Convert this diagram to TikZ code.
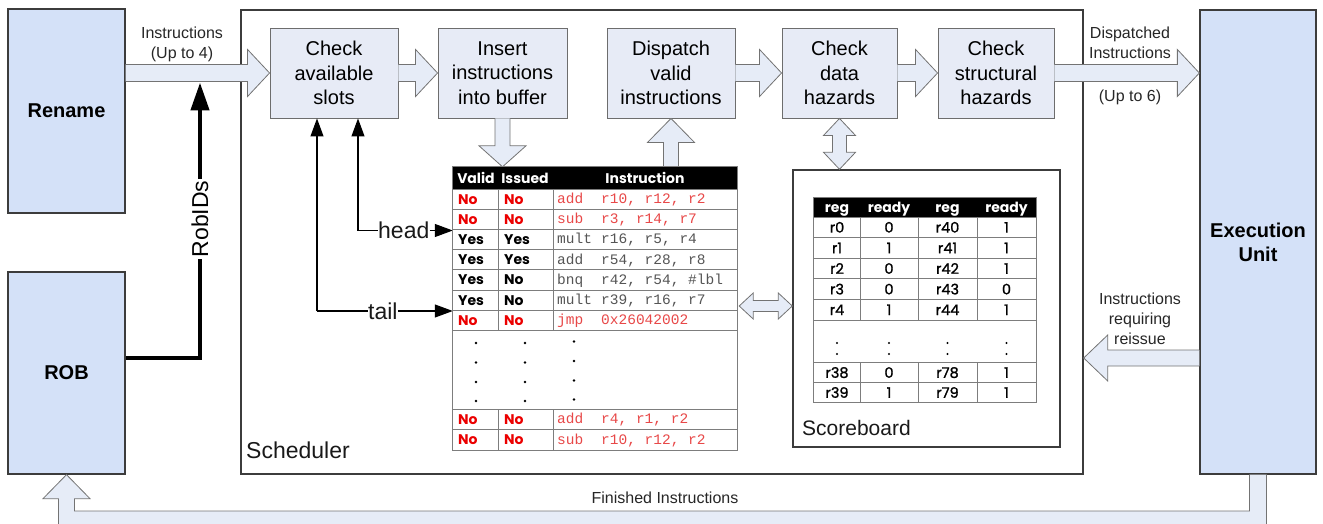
\documentclass[tikz,border=0pt]{standalone}
\usepackage{fontspec}
\setmainfont{Liberation Sans}
\newfontfamily\tabfont{Poppins}
\newfontfamily\tabmed[FakeBold=1.2]{Poppins}
\newfontfamily\codefont{Liberation Mono}
\usetikzlibrary{arrows.meta,calc}
\definecolor{bordc}{RGB}{60,60,60}
\definecolor{unitf}{RGB}{212,225,248}
\definecolor{procf}{RGB}{231,235,246}
\definecolor{arrf}{RGB}{230,236,247}
\definecolor{arrd}{RGB}{115,115,115}
\definecolor{gridc}{RGB}{125,125,125}
\definecolor{nored}{RGB}{235,0,0}
\definecolor{insred}{RGB}{232,72,72}
\definecolor{insgray}{RGB}{85,85,85}
\newcommand\rblk[2]{\draw[blk] let \p1=(#1), \p2=(#2) in (\x1,\y2+8.5pt) -- (\x2-22pt,\y2+8.5pt) -- (\x2-22pt,\y2+23.5pt) -- (\x2,\y2) -- (\x2-22pt,\y2-23.5pt) -- (\x2-22pt,\y2-8.5pt) -- (\x1,\y2-8.5pt);}
\newcommand\lblk[2]{\draw[blk] let \p1=(#1), \p2=(#2) in (\x1,\y2+8pt) -- (\x2+24pt,\y2+8pt) -- (\x2+24pt,\y2+23pt) -- (\x2,\y2) -- (\x2+24pt,\y2-23pt) -- (\x2+24pt,\y2-8pt) -- (\x1,\y2-8pt);}
\newcommand\dblk[2]{\draw[blk] let \p1=(#1), \p2=(#2) in (\x2-7.5pt,\y1) -- (\x2-7.5pt,\y2+21pt) -- (\x2-23.5pt,\y2+21pt) -- (\x2,\y2) -- (\x2+23.5pt,\y2+21pt) -- (\x2+7.5pt,\y2+21pt) -- (\x2+7.5pt,\y1);}
\newcommand\ublk[2]{\draw[blk] let \p1=(#1), \p2=(#2) in (\x2-7.5pt,\y1) -- (\x2-7.5pt,\y2-24pt) -- (\x2-23.5pt,\y2-24pt) -- (\x2,\y2) -- (\x2+23.5pt,\y2-24pt) -- (\x2+7.5pt,\y2-24pt) -- (\x2+7.5pt,\y1);}
\newcommand\vdbl[2]{\draw[blk] let \p1=(#1), \p2=(#2) in (\x1,\y1) -- (\x1+16pt,\y1-17pt) -- (\x1+7pt,\y1-17pt) -- (\x1+7pt,\y2+17pt) -- (\x1+16pt,\y2+17pt) -- (\x1,\y2) -- (\x1-16pt,\y2+17pt) -- (\x1-7pt,\y2+17pt) -- (\x1-7pt,\y1-17pt) -- (\x1-16pt,\y1-17pt) -- cycle;}
\newcommand\hdbl[2]{\draw[blk] let \p1=(#1), \p2=(#2) in (\x1,\y1) -- (\x1+14pt,\y1+13pt) -- (\x1+14pt,\y1+5.5pt) -- (\x2-14pt,\y1+5.5pt) -- (\x2-14pt,\y1+13pt) -- (\x2,\y1) -- (\x2-14pt,\y1-13pt) -- (\x2-14pt,\y1-5.5pt) -- (\x1+14pt,\y1-5.5pt) -- (\x1+14pt,\y1-13pt) -- cycle;}
\begin{document}
\begin{tikzpicture}[x=1pt,y=-1pt,
  unit/.style={draw=bordc, fill=unitf, line width=1.3pt, font=\fontsize{20}{24}\selectfont\bfseries, align=center, inner sep=0pt},
  proc/.style={draw=bordc!75, fill=procf, line width=0.9pt, font=\fontsize{20}{24.5}\selectfont, align=center, minimum height=90pt, inner sep=0pt},
  frame/.style={draw=bordc, line width=1.4pt, inner sep=0pt},
  blk/.style={draw=arrd, fill=arrf, line width=0.8pt, line join=miter},
  lbl/.style={font=\fontsize{16}{20}\selectfont, align=center, inner sep=0pt, text=black!85},
  big/.style={font=\fontsize{23}{23}\selectfont, inner sep=0pt, text=black!90},
  ptr/.style={line width=1.1pt, -{Triangle[length=18pt,width=13pt]}},
  hdr/.style={font=\tabfont\fontsize{14}{16}\selectfont\bfseries, text=white, inner sep=0pt, anchor=base},
  cell/.style={font=\tabfont\fontsize{14}{16}\selectfont\bfseries, inner sep=0pt, anchor=base west},
  code/.style={font=\codefont\fontsize{14.5}{16}\selectfont, inner sep=0pt, anchor=base west},
  sbc/.style={font=\tabmed\fontsize{14.5}{16}\selectfont, inner sep=0pt, anchor=base},
  tline/.style={draw=gridc, line width=0.9pt}
]
\useasboundingbox (0,0) rectangle (1323,524);
\clip (0,0) rectangle (1323,524);

% frames and boxes
\node[frame, minimum width=842pt, minimum height=464pt] (sched) at (662,242) {};
\node[big, anchor=west] (schedl) at (246,450) {Scheduler};
\node[frame, minimum width=267pt, minimum height=277pt] (sb) at (926.5,308.5) {};
\node[font=\fontsize{21}{21}\selectfont, inner sep=0pt, anchor=west, text=black!90] (sbl) at (802,428) {Scoreboard};

\node[unit, minimum width=117pt, minimum height=204pt] (rename) at (66.5,111) {Rename};
\node[unit, minimum width=117pt, minimum height=202pt] (rob) at (66.5,373) {ROB};
\node[unit, minimum width=116pt, minimum height=464pt] (exec) at (1258,242) {Execution\\Unit};

\node[proc, minimum width=128pt] (slots) at (334,73) {Check\\available\\slots};
\node[proc, minimum width=129pt] (insert) at (502.5,73) {Insert\\instructions\\into buffer};
\node[proc, minimum width=128pt] (disp) at (671,73) {Dispatch\\valid\\instructions};
\node[proc, minimum width=115pt] (data) at (839.5,73) {Check\\data\\hazards};
\node[proc, minimum width=116pt] (struct) at (996,73) {Check\\structural\\hazards};

% table areas
\node[minimum width=284pt, minimum height=283pt, inner sep=0pt] (tbl) at (595,308.5) {};
\node[minimum width=222pt, minimum height=204.5pt, inner sep=0pt] (sbt) at (925,300.25) {};

% block arrows
\rblk{rename.east}{slots.west}
\rblk{slots.east}{insert.west}
\rblk{disp.east}{data.west}
\rblk{data.east}{struct.west}
\rblk{struct.east}{exec.west |- struct.west}
\dblk{insert.south}{insert.south |- tbl.north}
\ublk{disp.south |- tbl.north}{disp.south}
\vdbl{data.south}{data.south |- sb.north}
\coordinate (dh) at (0,306);
\hdbl{$(tbl.east |- dh)+(2,0)$}{sb.west |- dh}
\coordinate (rq) at (0,358);
\lblk{exec.west |- rq}{sched.east |- rq}
\coordinate (fb) at (0,511);
\draw[blk] let \p1=(exec.south), \p2=(rob.south), \p3=(fb) in
  (\x1-8.5pt,\y1) -- (\x1-8.5pt,\y3) -- (\x2+8pt,\y3) -- (\x2+8pt,\y2-24pt) -- (\x2+23.5pt,\y2-24pt) -- (\x2,\y2) -- (\x2-23.5pt,\y2-24pt) -- (\x2-8pt,\y2-24pt) -- (\x2-8pt,\y3-17pt) -- (\x1+8.5pt,\y3-17pt) -- (\x1+8.5pt,\y1);

% labels
\node[lbl] (l1) at (182,44) {Instructions\\(Up to 4)};
\node[lbl] (l2) at (1130,43) {Dispatched\\Instructions};
\node[lbl] (l3) at (1130,97) {(Up to 6)};
\node[lbl] (l4) at (1140,319) {Instructions\\requiring\\reissue};
\node[lbl] (l5) at (665,498) {Finished Instructions};

% RobIDs
\coordinate (robtip) at (200,82.5);
\coordinate (robc) at (200,358);
\draw[line width=4.5pt, -{Triangle[length=28pt,width=18pt]}] (rob.east |- robc) -- (robc) -- (robtip);
\node[rotate=90, fill=white, inner sep=1.5pt, font=\fontsize{23}{23}\selectfont] (robids) at (200,219) {RobIDs};

% head / tail pointers
\coordinate (hcor) at (358,230.5);
\coordinate (tcor) at (317,311);
\node[big, anchor=west] (headl) at (378,230.5) {head};
\node[big, anchor=west] (taill) at (368,311) {tail};
\draw[ptr] (hcor) -- (hcor |- slots.south);
\draw[line width=1.1pt] (hcor) -- (headl.west);
\draw[ptr] (headl.east) -- (tbl.west |- hcor);
\draw[ptr] (tcor) -- (tcor |- slots.south);
\draw[line width=1.1pt] (tcor) -- (taill.west);
\draw[ptr] (taill.east) -- (tbl.west |- tcor);

% instruction table
\fill[white] (tbl.north west) rectangle (tbl.south east);
\fill[black] (tbl.north west) rectangle (737,189);
\foreach \yy in {189,209.2,229.4,249.6,269.8,290,310.2,330.4,409,429.5}
  \draw[tline] (453,\yy) -- (737,\yy);
\foreach \xx in {498,553} {
  \draw[tline] (\xx,189) -- (\xx,330.4);
  \draw[tline] (\xx,409) -- (\xx,450);
}
\draw[tline] (tbl.north west) rectangle (tbl.south east);
\node[hdr] (hv) at (476,183) {Valid};
\node[hdr] (hi) at (525,183) {Issued};
\node[hdr] (hn) at (645,183) {Instruction};
\foreach \n/\yc/\v/\vc/\s/\sc/\m/\o/\c in {
  0/199.1/No/nored/No/nored/add/{r10, r12, r2}/insred,
  1/219.3/No/nored/No/nored/sub/{r3, r14, r7}/insred,
  2/239.5/Yes/black/Yes/black/mult/{r16, r5, r4}/insgray,
  3/259.7/Yes/black/Yes/black/add/{r54, r28, r8}/insgray,
  4/279.9/Yes/black/No/black/bnq/{r42, r54, \#lbl}/insgray,
  5/300.1/Yes/black/No/black/mult/{r39, r16, r7}/insgray,
  6/320.3/No/nored/No/nored/jmp/{0x26042002}/insred,
  7/419.2/No/nored/No/nored/add/{r4, r1, r2}/insred,
  8/439.7/No/nored/No/nored/sub/{r10, r12, r2}/insred}
{
  \node[cell, text=\vc] (v\n) at (458,\yc+5) {\v};
  \node[cell, text=\sc] (s\n) at (504,\yc+5) {\s};
  \node[code, text=\c] (m\n) at (557,\yc+4.3) {\m};
  \node[code, text=\c] (o\n) at (601,\yc+4.3) {\o};
}
\foreach \dy in {343,362.5,382,401} {
  \fill (476,\dy) circle (1.3pt);
  \fill (525,\dy) circle (1.3pt);
  \fill (574,\dy-1.5) circle (1.3pt);
}

% scoreboard table
\fill[black] (sbt.north west) rectangle (1036,217);
\foreach \yy in {217,237.6,258.2,278.8,299.4,320,362.5,382.5}
  \draw[tline] (814,\yy) -- (1036,\yy);
\foreach \xx in {860,918,977} {
  \draw[tline] (\xx,217) -- (\xx,320);
  \draw[tline] (\xx,362.5) -- (\xx,402.5);
}
\draw[tline] (sbt.north west) rectangle (sbt.south east);
\node[hdr] (sh1) at (837,212.5) {reg};
\node[hdr] (sh2) at (889,212.5) {ready};
\node[hdr] (sh3) at (947.5,212.5) {reg};
\node[hdr] (sh4) at (1006.5,212.5) {ready};
\foreach \n/\yc/\a/\b/\c/\d in {
  0/227.3/r0/0/r40/1, 1/247.9/r1/1/r41/1, 2/268.5/r2/0/r42/1,
  3/289.1/r3/0/r43/0, 4/309.7/r4/1/r44/1, 5/372.5/r38/0/r78/1, 6/392.5/r39/1/r79/1}
{
  \node[sbc] (sa\n) at (837,\yc+5.3) {\a};
  \node[sbc] (sb\n) at (889,\yc+5.3) {\b};
  \node[sbc] (sc\n) at (947.5,\yc+5.3) {\c};
  \node[sbc] (sd\n) at (1006.5,\yc+5.3) {\d};
}
\foreach \xx in {837,889,947.5,1006.5} {
  \fill (\xx,343) circle (1.2pt);
  \fill (\xx,354) circle (1.2pt);
}
\end{tikzpicture}
\end{document}
